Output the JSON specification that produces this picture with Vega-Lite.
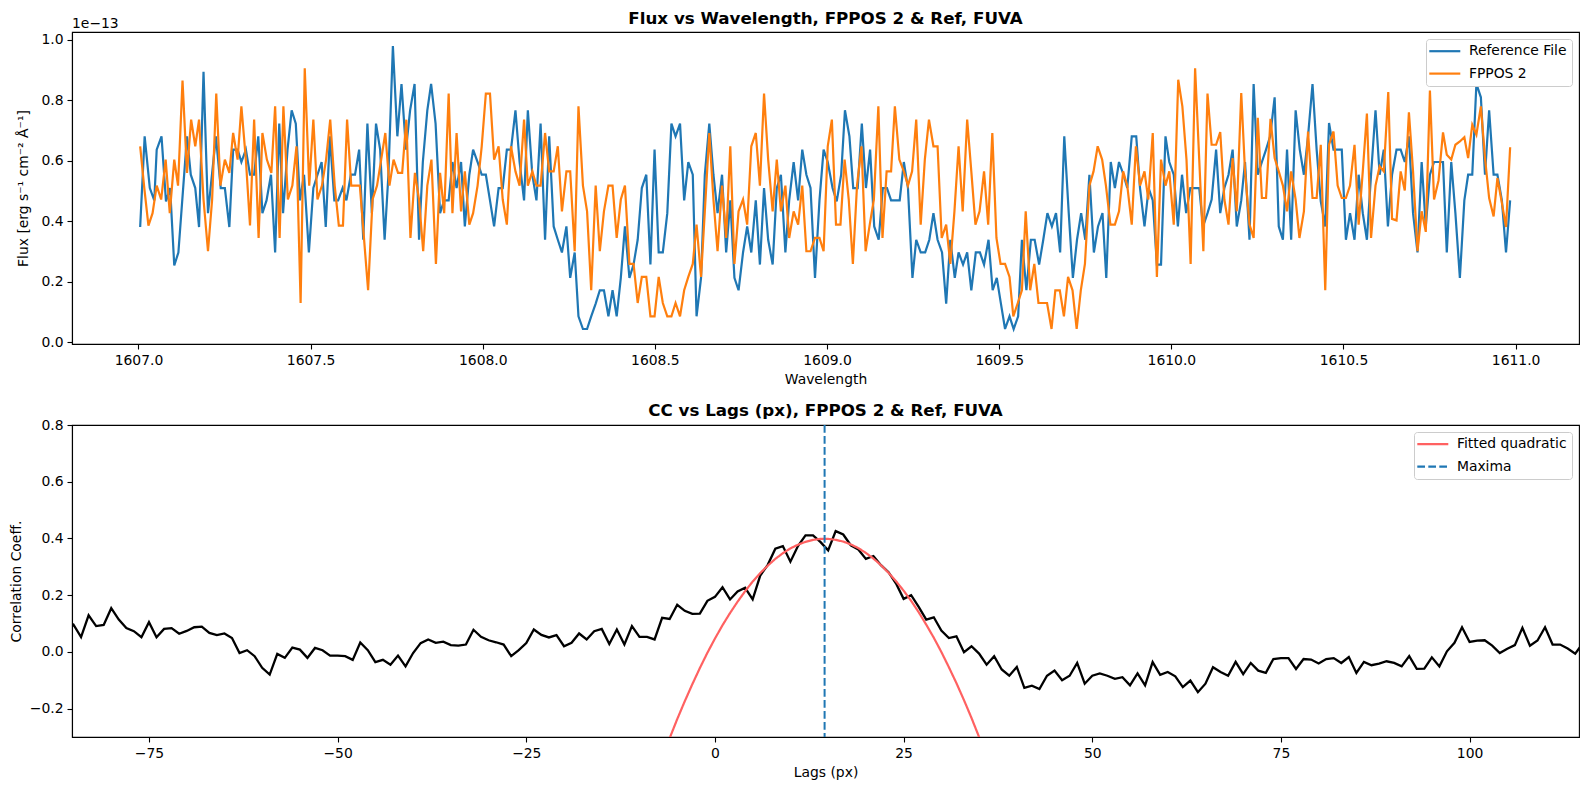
{
  "$schema": "https://vega.github.io/schema/vega-lite/v6.json",
  "padding": {"left": 8, "top": 10, "right": 9, "bottom": 10},
  "background": "white",
  "spacing": 81,
  "bounds": "flush",
  "config": {
    "font": "DejaVu Sans",
    "view": {"stroke": "black", "strokeWidth": 1.1},
    "axis": {"grid": false, "domainColor": "black", "domainWidth": 1.1, "tickColor": "black", "tickWidth": 1.1, "tickSize": 5, "labelPadding": 4, "labelColor": "black", "titleColor": "black", "labelFont": "DejaVu Sans", "titleFont": "DejaVu Sans", "labelFontSize": 13.9, "titleFontSize": 13.9, "titleFontWeight": "normal"},
    "title": {"font": "DejaVu Sans", "fontSize": 16.7, "fontWeight": "bold", "color": "black", "baseline": "alphabetic", "offset": 8.3, "anchor": "middle"},
    "legend": {"orient": "top-right", "offset": 7, "fillColor": "white", "strokeColor": "#cccccc", "cornerRadius": 3, "padding": 5.25, "labelFont": "DejaVu Sans", "labelFontSize": 13.9, "labelColor": "black", "symbolType": "M-3.1,0H3.1", "symbolSize": 100, "symbolOffset": 6.6, "symbolStrokeWidth": 2.2, "rowPadding": 7.4, "labelOffset": 17.15, "title": null}
  },
  "datasets": {
    "ref": [
      {"wavelength":1607.005,"flux":0.380},{"wavelength":1607.018,"flux":0.680},{"wavelength":1607.033,"flux":0.509},{"wavelength":1607.046,"flux":0.468},{"wavelength":1607.053,"flux":0.636},{"wavelength":1607.067,"flux":0.680},{"wavelength":1607.080,"flux":0.465},{"wavelength":1607.092,"flux":0.509},{"wavelength":1607.104,"flux":0.253},{"wavelength":1607.116,"flux":0.296},{"wavelength":1607.141,"flux":0.680},{"wavelength":1607.152,"flux":0.553},{"wavelength":1607.165,"flux":0.509},{"wavelength":1607.176,"flux":0.380},{"wavelength":1607.189,"flux":0.893},{"wavelength":1607.202,"flux":0.426},{"wavelength":1607.225,"flux":0.680},{"wavelength":1607.239,"flux":0.509},{"wavelength":1607.251,"flux":0.509},{"wavelength":1607.264,"flux":0.380},{"wavelength":1607.275,"flux":0.636},{"wavelength":1607.288,"flux":0.636},{"wavelength":1607.299,"flux":0.595},{"wavelength":1607.312,"flux":0.636},{"wavelength":1607.324,"flux":0.553},{"wavelength":1607.336,"flux":0.553},{"wavelength":1607.348,"flux":0.680},{"wavelength":1607.360,"flux":0.426},{"wavelength":1607.372,"flux":0.468},{"wavelength":1607.385,"flux":0.553},{"wavelength":1607.397,"flux":0.296},{"wavelength":1607.409,"flux":0.722},{"wavelength":1607.420,"flux":0.426},{"wavelength":1607.433,"flux":0.636},{"wavelength":1607.445,"flux":0.766},{"wavelength":1607.457,"flux":0.722},{"wavelength":1607.469,"flux":0.468},{"wavelength":1607.481,"flux":0.553},{"wavelength":1607.495,"flux":0.296},{"wavelength":1607.508,"flux":0.509},{"wavelength":1607.520,"flux":0.553},{"wavelength":1607.532,"flux":0.595},{"wavelength":1607.544,"flux":0.380},{"wavelength":1607.556,"flux":0.680},{"wavelength":1607.569,"flux":0.468},{"wavelength":1607.580,"flux":0.468},{"wavelength":1607.593,"flux":0.509},{"wavelength":1607.604,"flux":0.468},{"wavelength":1607.617,"flux":0.553},{"wavelength":1607.629,"flux":0.553},{"wavelength":1607.641,"flux":0.636},{"wavelength":1607.653,"flux":0.338},{"wavelength":1607.665,"flux":0.722},{"wavelength":1607.678,"flux":0.426},{"wavelength":1607.690,"flux":0.722},{"wavelength":1607.702,"flux":0.636},{"wavelength":1607.715,"flux":0.338},{"wavelength":1607.726,"flux":0.553},{"wavelength":1607.739,"flux":0.978},{"wavelength":1607.752,"flux":0.680},{"wavelength":1607.764,"flux":0.853},{"wavelength":1607.777,"flux":0.636},{"wavelength":1607.789,"flux":0.766},{"wavelength":1607.802,"flux":0.853},{"wavelength":1607.815,"flux":0.338},{"wavelength":1607.826,"flux":0.595},{"wavelength":1607.839,"flux":0.766},{"wavelength":1607.850,"flux":0.853},{"wavelength":1607.863,"flux":0.722},{"wavelength":1607.876,"flux":0.426},{"wavelength":1607.888,"flux":0.468},{"wavelength":1607.901,"flux":0.468},
      {"wavelength":1607.912,"flux":0.595},{"wavelength":1607.924,"flux":0.509},{"wavelength":1607.937,"flux":0.595},{"wavelength":1607.948,"flux":0.382},{"wavelength":1607.961,"flux":0.553},{"wavelength":1607.972,"flux":0.636},{"wavelength":1607.985,"flux":0.595},{"wavelength":1607.997,"flux":0.553},{"wavelength":1608.009,"flux":0.553},{"wavelength":1608.021,"flux":0.468},{"wavelength":1608.033,"flux":0.382},{"wavelength":1608.046,"flux":0.509},{"wavelength":1608.058,"flux":0.509},{"wavelength":1608.070,"flux":0.636},{"wavelength":1608.082,"flux":0.636},{"wavelength":1608.095,"flux":0.766},{"wavelength":1608.107,"flux":0.595},{"wavelength":1608.120,"flux":0.468},{"wavelength":1608.131,"flux":0.766},{"wavelength":1608.144,"flux":0.553},{"wavelength":1608.156,"flux":0.468},{"wavelength":1608.168,"flux":0.722},{"wavelength":1608.181,"flux":0.338},{"wavelength":1608.193,"flux":0.680},{"wavelength":1608.206,"flux":0.382},{"wavelength":1608.218,"flux":0.338},{"wavelength":1608.230,"flux":0.296},{"wavelength":1608.243,"flux":0.382},{"wavelength":1608.254,"flux":0.212},{"wavelength":1608.267,"flux":0.296},{"wavelength":1608.278,"flux":0.085},{"wavelength":1608.291,"flux":0.043},{"wavelength":1608.303,"flux":0.043},{"wavelength":1608.315,"flux":0.085},{"wavelength":1608.328,"flux":0.127},{"wavelength":1608.340,"flux":0.171},{"wavelength":1608.352,"flux":0.171},{"wavelength":1608.365,"flux":0.085},{"wavelength":1608.377,"flux":0.171},{"wavelength":1608.389,"flux":0.085},{"wavelength":1608.401,"flux":0.212},{"wavelength":1608.413,"flux":0.382},{"wavelength":1608.426,"flux":0.212},{"wavelength":1608.438,"flux":0.256},{"wavelength":1608.450,"flux":0.338},{"wavelength":1608.462,"flux":0.509},{"wavelength":1608.475,"flux":0.553},{"wavelength":1608.487,"flux":0.256},{"wavelength":1608.499,"flux":0.636},{"wavelength":1608.511,"flux":0.296},{"wavelength":1608.523,"flux":0.296},{"wavelength":1608.536,"flux":0.426},{"wavelength":1608.548,"flux":0.722},{"wavelength":1608.560,"flux":0.680},{"wavelength":1608.573,"flux":0.722},{"wavelength":1608.585,"flux":0.468},{"wavelength":1608.597,"flux":0.595},{"wavelength":1608.610,"flux":0.553},{"wavelength":1608.621,"flux":0.085},{"wavelength":1608.634,"flux":0.212},{"wavelength":1608.645,"flux":0.553},{"wavelength":1608.658,"flux":0.722},{"wavelength":1608.670,"flux":0.553},{"wavelength":1608.682,"flux":0.426},{"wavelength":1608.695,"flux":0.553},{"wavelength":1608.707,"flux":0.296},{"wavelength":1608.719,"flux":0.468},{"wavelength":1608.731,"flux":0.212},{"wavelength":1608.743,"flux":0.171},{"wavelength":1608.756,"flux":0.296},{"wavelength":1608.768,"flux":0.382},{"wavelength":1608.780,"flux":0.296},{"wavelength":1608.793,"flux":0.468},{"wavelength":1608.805,"flux":0.256},{"wavelength":1608.817,"flux":0.509},{"wavelength":1608.829,"flux":0.338},{"wavelength":1608.842,"flux":0.256},{"wavelength":1608.854,"flux":0.509},{"wavelength":1608.866,"flux":0.553},{"wavelength":1608.879,"flux":0.296},{"wavelength":1608.890,"flux":0.468},{"wavelength":1608.903,"flux":0.595},{"wavelength":1608.916,"flux":0.468},{"wavelength":1608.928,"flux":0.636},{"wavelength":1608.940,"flux":0.553},{"wavelength":1608.952,"flux":0.509},{"wavelength":1608.965,"flux":0.212},{"wavelength":1608.978,"flux":0.468},{"wavelength":1608.990,"flux":0.636},{"wavelength":1609.002,"flux":0.595},
      {"wavelength":1609.016,"flux":0.509},{"wavelength":1609.028,"flux":0.465},{"wavelength":1609.041,"flux":0.553},{"wavelength":1609.052,"flux":0.766},{"wavelength":1609.065,"flux":0.680},{"wavelength":1609.076,"flux":0.509},{"wavelength":1609.089,"flux":0.509},{"wavelength":1609.101,"flux":0.722},{"wavelength":1609.113,"flux":0.509},{"wavelength":1609.125,"flux":0.636},{"wavelength":1609.137,"flux":0.382},{"wavelength":1609.150,"flux":0.338},{"wavelength":1609.162,"flux":0.509},{"wavelength":1609.174,"flux":0.509},{"wavelength":1609.186,"flux":0.468},{"wavelength":1609.198,"flux":0.468},{"wavelength":1609.211,"flux":0.468},{"wavelength":1609.223,"flux":0.595},{"wavelength":1609.235,"flux":0.509},{"wavelength":1609.248,"flux":0.212},{"wavelength":1609.259,"flux":0.338},{"wavelength":1609.272,"flux":0.296},{"wavelength":1609.285,"flux":0.296},{"wavelength":1609.297,"flux":0.338},{"wavelength":1609.309,"flux":0.426},{"wavelength":1609.321,"flux":0.338},{"wavelength":1609.334,"flux":0.296},{"wavelength":1609.346,"flux":0.127},{"wavelength":1609.358,"flux":0.338},{"wavelength":1609.371,"flux":0.212},{"wavelength":1609.382,"flux":0.296},{"wavelength":1609.395,"flux":0.256},{"wavelength":1609.407,"flux":0.296},{"wavelength":1609.419,"flux":0.171},{"wavelength":1609.432,"flux":0.296},{"wavelength":1609.444,"flux":0.296},{"wavelength":1609.456,"flux":0.256},{"wavelength":1609.469,"flux":0.338},{"wavelength":1609.481,"flux":0.171},{"wavelength":1609.493,"flux":0.212},{"wavelength":1609.505,"flux":0.127},{"wavelength":1609.517,"flux":0.043},{"wavelength":1609.530,"flux":0.085},{"wavelength":1609.542,"flux":0.043},{"wavelength":1609.555,"flux":0.085},{"wavelength":1609.566,"flux":0.338},{"wavelength":1609.579,"flux":0.171},{"wavelength":1609.592,"flux":0.338},{"wavelength":1609.603,"flux":0.338},{"wavelength":1609.616,"flux":0.256},{"wavelength":1609.628,"flux":0.338},{"wavelength":1609.640,"flux":0.426},{"wavelength":1609.653,"flux":0.382},{"wavelength":1609.665,"flux":0.426},{"wavelength":1609.677,"flux":0.296},{"wavelength":1609.689,"flux":0.680},{"wavelength":1609.702,"flux":0.426},{"wavelength":1609.714,"flux":0.212},{"wavelength":1609.726,"flux":0.338},{"wavelength":1609.738,"flux":0.426},{"wavelength":1609.750,"flux":0.338},{"wavelength":1609.762,"flux":0.553},{"wavelength":1609.775,"flux":0.296},{"wavelength":1609.787,"flux":0.382},{"wavelength":1609.800,"flux":0.426},{"wavelength":1609.811,"flux":0.212},{"wavelength":1609.824,"flux":0.595},{"wavelength":1609.836,"flux":0.509},{"wavelength":1609.848,"flux":0.595},{"wavelength":1609.861,"flux":0.553},{"wavelength":1609.872,"flux":0.509},{"wavelength":1609.885,"flux":0.680},{"wavelength":1609.898,"flux":0.680},{"wavelength":1609.909,"flux":0.509},{"wavelength":1609.922,"flux":0.382},{"wavelength":1609.934,"flux":0.509},{"wavelength":1609.946,"flux":0.468},{"wavelength":1609.958,"flux":0.256},{"wavelength":1609.970,"flux":0.256},{"wavelength":1609.983,"flux":0.680},{"wavelength":1609.994,"flux":0.595},{"wavelength":1610.007,"flux":0.553},{"wavelength":1610.019,"flux":0.382},{"wavelength":1610.031,"flux":0.553},{"wavelength":1610.043,"flux":0.426},{"wavelength":1610.055,"flux":0.509},{"wavelength":1610.068,"flux":0.509},{"wavelength":1610.081,"flux":0.509},{"wavelength":1610.092,"flux":0.382},{"wavelength":1610.105,"flux":0.426},
      {"wavelength":1610.117,"flux":0.471},{"wavelength":1610.130,"flux":0.636},{"wavelength":1610.142,"flux":0.426},{"wavelength":1610.154,"flux":0.509},{"wavelength":1610.166,"flux":0.553},{"wavelength":1610.178,"flux":0.636},{"wavelength":1610.190,"flux":0.382},{"wavelength":1610.203,"flux":0.468},{"wavelength":1610.214,"flux":0.595},{"wavelength":1610.227,"flux":0.338},{"wavelength":1610.239,"flux":0.853},{"wavelength":1610.251,"flux":0.553},{"wavelength":1610.263,"flux":0.595},{"wavelength":1610.275,"flux":0.636},{"wavelength":1610.287,"flux":0.680},{"wavelength":1610.300,"flux":0.809},{"wavelength":1610.312,"flux":0.382},{"wavelength":1610.324,"flux":0.338},{"wavelength":1610.336,"flux":0.636},{"wavelength":1610.348,"flux":0.338},{"wavelength":1610.361,"flux":0.766},{"wavelength":1610.373,"flux":0.636},{"wavelength":1610.385,"flux":0.553},{"wavelength":1610.397,"flux":0.680},{"wavelength":1610.410,"flux":0.853},{"wavelength":1610.422,"flux":0.636},{"wavelength":1610.434,"flux":0.465},{"wavelength":1610.447,"flux":0.382},{"wavelength":1610.458,"flux":0.724},{"wavelength":1610.471,"flux":0.636},{"wavelength":1610.483,"flux":0.636},{"wavelength":1610.495,"flux":0.636},{"wavelength":1610.507,"flux":0.338},{"wavelength":1610.519,"flux":0.426},{"wavelength":1610.532,"flux":0.338},{"wavelength":1610.544,"flux":0.553},{"wavelength":1610.556,"flux":0.426},{"wavelength":1610.568,"flux":0.338},{"wavelength":1610.580,"flux":0.553},{"wavelength":1610.593,"flux":0.766},{"wavelength":1610.605,"flux":0.553},{"wavelength":1610.617,"flux":0.636},{"wavelength":1610.629,"flux":0.382},{"wavelength":1610.641,"flux":0.553},{"wavelength":1610.654,"flux":0.636},{"wavelength":1610.666,"flux":0.636},{"wavelength":1610.678,"flux":0.595},{"wavelength":1610.690,"flux":0.680},{"wavelength":1610.702,"flux":0.426},{"wavelength":1610.715,"flux":0.296},{"wavelength":1610.727,"flux":0.595},{"wavelength":1610.739,"flux":0.382},{"wavelength":1610.751,"flux":0.553},{"wavelength":1610.763,"flux":0.595},{"wavelength":1610.776,"flux":0.595},{"wavelength":1610.789,"flux":0.595},{"wavelength":1610.800,"flux":0.296},{"wavelength":1610.813,"flux":0.595},{"wavelength":1610.825,"flux":0.426},{"wavelength":1610.838,"flux":0.212},{"wavelength":1610.851,"flux":0.468},{"wavelength":1610.862,"flux":0.553},{"wavelength":1610.874,"flux":0.553},{"wavelength":1610.886,"flux":0.853},{"wavelength":1610.899,"flux":0.809},{"wavelength":1610.911,"flux":0.553},{"wavelength":1610.923,"flux":0.766},{"wavelength":1610.936,"flux":0.553},{"wavelength":1610.947,"flux":0.553},{"wavelength":1610.960,"flux":0.468},{"wavelength":1610.972,"flux":0.296},{"wavelength":1610.984,"flux":0.468}
    ],
    "fppos": [
      {"wavelength":1607.005,"flux":0.647},{"wavelength":1607.017,"flux":0.509},{"wavelength":1607.029,"flux":0.385},{"wavelength":1607.041,"flux":0.426},{"wavelength":1607.053,"flux":0.517},{"wavelength":1607.066,"flux":0.471},{"wavelength":1607.079,"flux":0.603},{"wavelength":1607.091,"flux":0.426},{"wavelength":1607.104,"flux":0.603},{"wavelength":1607.115,"flux":0.517},{"wavelength":1607.128,"flux":0.864},{"wavelength":1607.141,"flux":0.559},{"wavelength":1607.153,"flux":0.735},{"wavelength":1607.165,"flux":0.647},{"wavelength":1607.176,"flux":0.735},{"wavelength":1607.189,"flux":0.471},{"wavelength":1607.202,"flux":0.300},{"wavelength":1607.214,"flux":0.471},{"wavelength":1607.226,"flux":0.821},{"wavelength":1607.238,"flux":0.517},{"wavelength":1607.251,"flux":0.603},{"wavelength":1607.264,"flux":0.559},{"wavelength":1607.275,"flux":0.691},{"wavelength":1607.288,"flux":0.603},{"wavelength":1607.299,"flux":0.779},{"wavelength":1607.312,"flux":0.603},{"wavelength":1607.324,"flux":0.385},{"wavelength":1607.336,"flux":0.735},{"wavelength":1607.349,"flux":0.344},{"wavelength":1607.360,"flux":0.691},{"wavelength":1607.373,"flux":0.603},{"wavelength":1607.386,"flux":0.559},{"wavelength":1607.397,"flux":0.779},{"wavelength":1607.410,"flux":0.344},{"wavelength":1607.421,"flux":0.779},{"wavelength":1607.434,"flux":0.471},{"wavelength":1607.447,"flux":0.517},{"wavelength":1607.459,"flux":0.647},{"wavelength":1607.471,"flux":0.129},{"wavelength":1607.483,"flux":0.905},{"wavelength":1607.496,"flux":0.517},{"wavelength":1607.508,"flux":0.735},{"wavelength":1607.520,"flux":0.471},{"wavelength":1607.533,"flux":0.517},{"wavelength":1607.545,"flux":0.603},{"wavelength":1607.557,"flux":0.735},{"wavelength":1607.570,"flux":0.517},{"wavelength":1607.582,"flux":0.385},{"wavelength":1607.594,"flux":0.385},{"wavelength":1607.606,"flux":0.735},{"wavelength":1607.618,"flux":0.517},{"wavelength":1607.631,"flux":0.517},{"wavelength":1607.643,"flux":0.517},{"wavelength":1607.655,"flux":0.344},{"wavelength":1607.667,"flux":0.171},{"wavelength":1607.680,"flux":0.471},{"wavelength":1607.693,"flux":0.517},{"wavelength":1607.705,"flux":0.603},{"wavelength":1607.717,"flux":0.691},{"wavelength":1607.729,"flux":0.517},{"wavelength":1607.741,"flux":0.603},{"wavelength":1607.754,"flux":0.559},{"wavelength":1607.766,"flux":0.559},{"wavelength":1607.778,"flux":0.735},{"wavelength":1607.790,"flux":0.344},{"wavelength":1607.803,"flux":0.559},{"wavelength":1607.815,"flux":0.471},{"wavelength":1607.827,"flux":0.300},{"wavelength":1607.839,"flux":0.517},{"wavelength":1607.851,"flux":0.603},{"wavelength":1607.864,"flux":0.258},{"wavelength":1607.876,"flux":0.559},{"wavelength":1607.888,"flux":0.426},{"wavelength":1607.901,"flux":0.821},
      {"wavelength":1607.912,"flux":0.426},{"wavelength":1607.924,"flux":0.691},{"wavelength":1607.937,"flux":0.432},{"wavelength":1607.948,"flux":0.564},{"wavelength":1607.961,"flux":0.388},{"wavelength":1607.972,"flux":0.426},{"wavelength":1607.985,"flux":0.517},{"wavelength":1607.997,"flux":0.647},{"wavelength":1608.009,"flux":0.821},{"wavelength":1608.021,"flux":0.821},{"wavelength":1608.033,"flux":0.603},{"wavelength":1608.046,"flux":0.647},{"wavelength":1608.058,"flux":0.471},{"wavelength":1608.070,"flux":0.388},{"wavelength":1608.082,"flux":0.647},{"wavelength":1608.095,"flux":0.564},{"wavelength":1608.107,"flux":0.517},{"wavelength":1608.120,"flux":0.735},{"wavelength":1608.131,"flux":0.517},{"wavelength":1608.144,"flux":0.564},{"wavelength":1608.156,"flux":0.517},{"wavelength":1608.168,"flux":0.517},{"wavelength":1608.181,"flux":0.691},{"wavelength":1608.193,"flux":0.564},{"wavelength":1608.206,"flux":0.564},{"wavelength":1608.218,"flux":0.647},{"wavelength":1608.230,"flux":0.432},{"wavelength":1608.243,"flux":0.564},{"wavelength":1608.254,"flux":0.564},{"wavelength":1608.267,"flux":0.300},{"wavelength":1608.278,"flux":0.779},{"wavelength":1608.291,"flux":0.517},{"wavelength":1608.303,"flux":0.432},{"wavelength":1608.315,"flux":0.171},{"wavelength":1608.328,"flux":0.517},{"wavelength":1608.340,"flux":0.300},{"wavelength":1608.352,"flux":0.432},{"wavelength":1608.365,"flux":0.517},{"wavelength":1608.377,"flux":0.517},{"wavelength":1608.389,"flux":0.344},{"wavelength":1608.401,"flux":0.471},{"wavelength":1608.413,"flux":0.517},{"wavelength":1608.426,"flux":0.258},{"wavelength":1608.438,"flux":0.258},{"wavelength":1608.450,"flux":0.129},{"wavelength":1608.462,"flux":0.215},{"wavelength":1608.475,"flux":0.215},{"wavelength":1608.487,"flux":0.085},{"wavelength":1608.499,"flux":0.085},{"wavelength":1608.511,"flux":0.215},{"wavelength":1608.523,"flux":0.129},{"wavelength":1608.536,"flux":0.085},{"wavelength":1608.548,"flux":0.085},{"wavelength":1608.560,"flux":0.129},{"wavelength":1608.573,"flux":0.085},{"wavelength":1608.585,"flux":0.171},{"wavelength":1608.597,"flux":0.215},{"wavelength":1608.610,"flux":0.258},{"wavelength":1608.621,"flux":0.388},{"wavelength":1608.634,"flux":0.215},{"wavelength":1608.645,"flux":0.432},{"wavelength":1608.658,"flux":0.691},{"wavelength":1608.670,"flux":0.471},{"wavelength":1608.682,"flux":0.300},{"wavelength":1608.695,"flux":0.517},{"wavelength":1608.707,"flux":0.344},{"wavelength":1608.719,"flux":0.647},{"wavelength":1608.731,"flux":0.258},{"wavelength":1608.743,"flux":0.432},{"wavelength":1608.756,"flux":0.471},{"wavelength":1608.768,"flux":0.388},{"wavelength":1608.780,"flux":0.647},{"wavelength":1608.793,"flux":0.691},{"wavelength":1608.805,"flux":0.517},{"wavelength":1608.817,"flux":0.821},{"wavelength":1608.829,"flux":0.603},{"wavelength":1608.842,"flux":0.432},{"wavelength":1608.854,"flux":0.603},{"wavelength":1608.866,"flux":0.432},{"wavelength":1608.879,"flux":0.517},{"wavelength":1608.890,"flux":0.344},{"wavelength":1608.903,"flux":0.432},{"wavelength":1608.916,"flux":0.388},{"wavelength":1608.928,"flux":0.517},{"wavelength":1608.940,"flux":0.300},{"wavelength":1608.952,"flux":0.300},{"wavelength":1608.965,"flux":0.344},{"wavelength":1608.978,"flux":0.344},{"wavelength":1608.990,"flux":0.300},{"wavelength":1609.002,"flux":0.647},
      {"wavelength":1609.014,"flux":0.735},{"wavelength":1609.026,"flux":0.388},{"wavelength":1609.039,"flux":0.388},{"wavelength":1609.051,"flux":0.603},{"wavelength":1609.063,"flux":0.471},{"wavelength":1609.075,"flux":0.258},{"wavelength":1609.087,"flux":0.517},{"wavelength":1609.100,"flux":0.647},{"wavelength":1609.112,"flux":0.300},{"wavelength":1609.124,"flux":0.388},{"wavelength":1609.136,"flux":0.471},{"wavelength":1609.149,"flux":0.779},{"wavelength":1609.161,"flux":0.344},{"wavelength":1609.173,"flux":0.564},{"wavelength":1609.186,"flux":0.564},{"wavelength":1609.197,"flux":0.779},{"wavelength":1609.210,"flux":0.603},{"wavelength":1609.223,"flux":0.564},{"wavelength":1609.235,"flux":0.517},{"wavelength":1609.247,"flux":0.564},{"wavelength":1609.259,"flux":0.735},{"wavelength":1609.272,"flux":0.388},{"wavelength":1609.284,"flux":0.603},{"wavelength":1609.296,"flux":0.735},{"wavelength":1609.309,"flux":0.647},{"wavelength":1609.321,"flux":0.647},{"wavelength":1609.333,"flux":0.344},{"wavelength":1609.346,"flux":0.388},{"wavelength":1609.358,"flux":0.258},{"wavelength":1609.370,"flux":0.432},{"wavelength":1609.382,"flux":0.647},{"wavelength":1609.394,"flux":0.432},{"wavelength":1609.407,"flux":0.735},{"wavelength":1609.419,"flux":0.564},{"wavelength":1609.431,"flux":0.388},{"wavelength":1609.443,"flux":0.432},{"wavelength":1609.456,"flux":0.564},{"wavelength":1609.468,"flux":0.388},{"wavelength":1609.480,"flux":0.691},{"wavelength":1609.492,"flux":0.344},{"wavelength":1609.504,"flux":0.258},{"wavelength":1609.517,"flux":0.258},{"wavelength":1609.530,"flux":0.215},{"wavelength":1609.541,"flux":0.085},{"wavelength":1609.554,"flux":0.129},{"wavelength":1609.566,"flux":0.171},{"wavelength":1609.577,"flux":0.432},{"wavelength":1609.590,"flux":0.171},{"wavelength":1609.602,"flux":0.258},{"wavelength":1609.614,"flux":0.129},{"wavelength":1609.626,"flux":0.129},{"wavelength":1609.639,"flux":0.129},{"wavelength":1609.652,"flux":0.043},{"wavelength":1609.663,"flux":0.171},{"wavelength":1609.676,"flux":0.171},{"wavelength":1609.688,"flux":0.085},{"wavelength":1609.700,"flux":0.215},{"wavelength":1609.713,"flux":0.171},{"wavelength":1609.725,"flux":0.043},{"wavelength":1609.737,"flux":0.171},{"wavelength":1609.749,"flux":0.258},{"wavelength":1609.762,"flux":0.517},{"wavelength":1609.774,"flux":0.564},{"wavelength":1609.786,"flux":0.647},{"wavelength":1609.799,"flux":0.603},{"wavelength":1609.810,"flux":0.517},{"wavelength":1609.823,"flux":0.388},{"wavelength":1609.836,"flux":0.388},{"wavelength":1609.848,"flux":0.432},{"wavelength":1609.860,"flux":0.564},{"wavelength":1609.872,"flux":0.517},{"wavelength":1609.885,"flux":0.388},{"wavelength":1609.897,"flux":0.647},{"wavelength":1609.909,"flux":0.517},{"wavelength":1609.922,"flux":0.564},{"wavelength":1609.933,"flux":0.471},{"wavelength":1609.946,"flux":0.691},{"wavelength":1609.958,"flux":0.215},{"wavelength":1609.970,"flux":0.603},{"wavelength":1609.983,"flux":0.517},{"wavelength":1609.994,"flux":0.564},{"wavelength":1610.007,"flux":0.388},{"wavelength":1610.020,"flux":0.867},{"wavelength":1610.032,"flux":0.779},{"wavelength":1610.044,"flux":0.603},{"wavelength":1610.056,"flux":0.258},{"wavelength":1610.069,"flux":0.905},{"wavelength":1610.081,"flux":0.603},{"wavelength":1610.093,"flux":0.300},{"wavelength":1610.105,"flux":0.821},
      {"wavelength":1610.117,"flux":0.652},{"wavelength":1610.130,"flux":0.652},{"wavelength":1610.142,"flux":0.694},{"wavelength":1610.154,"flux":0.471},{"wavelength":1610.166,"flux":0.388},{"wavelength":1610.178,"flux":0.608},{"wavelength":1610.190,"flux":0.432},{"wavelength":1610.203,"flux":0.823},{"wavelength":1610.214,"flux":0.564},{"wavelength":1610.227,"flux":0.388},{"wavelength":1610.239,"flux":0.344},{"wavelength":1610.251,"flux":0.741},{"wavelength":1610.263,"flux":0.476},{"wavelength":1610.275,"flux":0.476},{"wavelength":1610.288,"flux":0.738},{"wavelength":1610.300,"flux":0.608},{"wavelength":1610.312,"flux":0.564},{"wavelength":1610.324,"flux":0.517},{"wavelength":1610.336,"flux":0.432},{"wavelength":1610.348,"flux":0.564},{"wavelength":1610.361,"flux":0.471},{"wavelength":1610.372,"flux":0.344},{"wavelength":1610.385,"flux":0.432},{"wavelength":1610.397,"flux":0.696},{"wavelength":1610.410,"flux":0.476},{"wavelength":1610.422,"flux":0.476},{"wavelength":1610.434,"flux":0.652},{"wavelength":1610.447,"flux":0.171},{"wavelength":1610.458,"flux":0.652},{"wavelength":1610.471,"flux":0.696},{"wavelength":1610.483,"flux":0.517},{"wavelength":1610.495,"flux":0.476},{"wavelength":1610.507,"flux":0.476},{"wavelength":1610.519,"flux":0.517},{"wavelength":1610.532,"flux":0.652},{"wavelength":1610.544,"flux":0.388},{"wavelength":1610.556,"flux":0.564},{"wavelength":1610.568,"flux":0.755},{"wavelength":1610.580,"flux":0.344},{"wavelength":1610.593,"flux":0.517},{"wavelength":1610.605,"flux":0.581},{"wavelength":1610.617,"flux":0.564},{"wavelength":1610.630,"flux":0.826},{"wavelength":1610.641,"flux":0.407},{"wavelength":1610.654,"flux":0.402},{"wavelength":1610.666,"flux":0.564},{"wavelength":1610.678,"flux":0.501},{"wavelength":1610.690,"flux":0.759},{"wavelength":1610.702,"flux":0.564},{"wavelength":1610.715,"flux":0.300},{"wavelength":1610.727,"flux":0.432},{"wavelength":1610.739,"flux":0.364},{"wavelength":1610.751,"flux":0.831},{"wavelength":1610.763,"flux":0.471},{"wavelength":1610.776,"flux":0.534},{"wavelength":1610.789,"flux":0.693},{"wavelength":1610.800,"flux":0.619},{"wavelength":1610.813,"flux":0.603},{"wavelength":1610.825,"flux":0.652},{"wavelength":1610.838,"flux":0.663},{"wavelength":1610.851,"flux":0.677},{"wavelength":1610.862,"flux":0.608},{"wavelength":1610.874,"flux":0.718},{"wavelength":1610.886,"flux":0.685},{"wavelength":1610.899,"flux":0.779},{"wavelength":1610.911,"flux":0.608},{"wavelength":1610.923,"flux":0.476},{"wavelength":1610.936,"flux":0.415},{"wavelength":1610.947,"flux":0.542},{"wavelength":1610.960,"flux":0.460},{"wavelength":1610.972,"flux":0.380},{"wavelength":1610.984,"flux":0.644}
    ],
    "offsetText": [{"label": "1e−13"}],
    "cc": [
      {"lag":-86,"cc":0.075},{"lag":-85,"cc":0.096},{"lag":-84,"cc":0.052},{"lag":-83,"cc":0.129},{"lag":-82,"cc":0.091},{"lag":-81,"cc":0.095},{"lag":-80,"cc":0.154},{"lag":-79,"cc":0.114},{"lag":-78,"cc":0.084},{"lag":-77,"cc":0.073},{"lag":-76,"cc":0.052},{"lag":-75,"cc":0.105},{"lag":-74,"cc":0.052},{"lag":-73,"cc":0.081},{"lag":-72,"cc":0.084},{"lag":-71,"cc":0.064},{"lag":-70,"cc":0.074},{"lag":-69,"cc":0.087},{"lag":-68,"cc":0.089},{"lag":-67,"cc":0.067},{"lag":-66,"cc":0.059},{"lag":-65,"cc":0.065},{"lag":-64,"cc":0.049},{"lag":-63,"cc":-0.004},{"lag":-62,"cc":0.006},{"lag":-61,"cc":-0.015},{"lag":-60,"cc":-0.056},{"lag":-59,"cc":-0.080},{"lag":-58,"cc":-0.007},{"lag":-57,"cc":-0.021},{"lag":-56,"cc":0.015},{"lag":-55,"cc":0.008},{"lag":-54,"cc":-0.021},{"lag":-53,"cc":0.014},{"lag":-52,"cc":0.006},{"lag":-51,"cc":-0.013},{"lag":-50,"cc":-0.013},{"lag":-49,"cc":-0.015},{"lag":-48,"cc":-0.028},{"lag":-47,"cc":0.033},{"lag":-46,"cc":0.006},{"lag":-45,"cc":-0.036},{"lag":-44,"cc":-0.028},{"lag":-43,"cc":-0.045},{"lag":-42,"cc":-0.013},{"lag":-41,"cc":-0.051},{"lag":-40,"cc":-0.004},{"lag":-39,"cc":0.031},{"lag":-38,"cc":0.044},{"lag":-37,"cc":0.032},{"lag":-36,"cc":0.036},{"lag":-35,"cc":0.024},{"lag":-34,"cc":0.022},{"lag":-33,"cc":0.026},{"lag":-32,"cc":0.078},{"lag":-31,"cc":0.053},{"lag":-30,"cc":0.041},{"lag":-29,"cc":0.034},{"lag":-28,"cc":0.026},{"lag":-27,"cc":-0.015},{"lag":-26,"cc":0.006},{"lag":-25,"cc":0.031},{"lag":-24,"cc":0.079},{"lag":-23,"cc":0.060},{"lag":-22,"cc":0.051},{"lag":-21,"cc":0.059},{"lag":-20,"cc":0.020},{"lag":-19,"cc":0.032},{"lag":-18,"cc":0.065},{"lag":-17,"cc":0.044},{"lag":-16,"cc":0.073},{"lag":-15,"cc":0.081},{"lag":-14,"cc":0.028},{"lag":-13,"cc":0.079},{"lag":-12,"cc":0.026},{"lag":-11,"cc":0.091},{"lag":-10,"cc":0.053},{"lag":-9,"cc":0.053},{"lag":-8,"cc":0.044},{"lag":-7,"cc":0.120},{"lag":-6,"cc":0.116},{"lag":-5,"cc":0.166},{"lag":-4,"cc":0.145},{"lag":-3,"cc":0.134},{"lag":-2,"cc":0.135},{"lag":-1,"cc":0.180},{"lag":0,"cc":0.194},{"lag":1,"cc":0.228},{"lag":2,"cc":0.185},{"lag":3,"cc":0.213},{"lag":4,"cc":0.226},{"lag":5,"cc":0.185},{"lag":6,"cc":0.269},{"lag":7,"cc":0.307},{"lag":8,"cc":0.364},{"lag":9,"cc":0.373},{"lag":10,"cc":0.318},{"lag":11,"cc":0.373},{"lag":12,"cc":0.411},{"lag":13,"cc":0.411},{"lag":14,"cc":0.387},{"lag":15,"cc":0.358},{"lag":16,"cc":0.426},{"lag":17,"cc":0.414},{"lag":18,"cc":0.376},{"lag":19,"cc":0.361},{"lag":20,"cc":0.328},{"lag":21,"cc":0.338},{"lag":22,"cc":0.306},{"lag":23,"cc":0.281},{"lag":24,"cc":0.241},{"lag":25,"cc":0.187},{"lag":26,"cc":0.200},{"lag":27,"cc":0.159},{"lag":28,"cc":0.114},{"lag":29,"cc":0.122},{"lag":30,"cc":0.075},{"lag":31,"cc":0.049},{"lag":32,"cc":0.055},{"lag":33,"cc":-0.001},{"lag":34,"cc":0.020},{"lag":35,"cc":-0.006},{"lag":36,"cc":-0.045},{"lag":37,"cc":-0.015},{"lag":38,"cc":-0.062},{"lag":39,"cc":-0.084},{"lag":40,"cc":-0.053},{"lag":41,"cc":-0.127},{"lag":42,"cc":-0.119},{"lag":43,"cc":-0.131},{"lag":44,"cc":-0.084},{"lag":45,"cc":-0.066},{"lag":46,"cc":-0.100},{"lag":47,"cc":-0.084},{"lag":48,"cc":-0.039},{"lag":49,"cc":-0.112},{"lag":50,"cc":-0.084},{"lag":51,"cc":-0.076},{"lag":52,"cc":-0.084},{"lag":53,"cc":-0.095},{"lag":54,"cc":-0.089},{"lag":55,"cc":-0.118},{"lag":56,"cc":-0.076},{"lag":57,"cc":-0.118},{"lag":58,"cc":-0.036},{"lag":59,"cc":-0.081},{"lag":60,"cc":-0.071},{"lag":61,"cc":-0.086},{"lag":62,"cc":-0.124},{"lag":63,"cc":-0.101},{"lag":64,"cc":-0.142},{"lag":65,"cc":-0.112},{"lag":66,"cc":-0.054},{"lag":67,"cc":-0.071},{"lag":68,"cc":-0.084},{"lag":69,"cc":-0.035},{"lag":70,"cc":-0.078},{"lag":71,"cc":-0.039},{"lag":72,"cc":-0.066},{"lag":73,"cc":-0.074},{"lag":74,"cc":-0.025},{"lag":75,"cc":-0.022},{"lag":76,"cc":-0.022},{"lag":77,"cc":-0.060},{"lag":78,"cc":-0.025},{"lag":79,"cc":-0.027},{"lag":80,"cc":-0.041},{"lag":81,"cc":-0.025},{"lag":82,"cc":-0.022},{"lag":83,"cc":-0.039},{"lag":84,"cc":-0.018},{"lag":85,"cc":-0.074},{"lag":86,"cc":-0.035},{"lag":87,"cc":-0.047},{"lag":88,"cc":-0.041},{"lag":89,"cc":-0.033},{"lag":90,"cc":-0.039},{"lag":91,"cc":-0.051},{"lag":92,"cc":-0.015},{"lag":93,"cc":-0.060},{"lag":94,"cc":-0.059},{"lag":95,"cc":-0.019},{"lag":96,"cc":-0.051},{"lag":97,"cc":0.002},{"lag":98,"cc":0.032},{"lag":99,"cc":0.087},{"lag":100,"cc":0.035},{"lag":101,"cc":0.040},{"lag":102,"cc":0.041},{"lag":103,"cc":0.022},{"lag":104,"cc":-0.004},{"lag":105,"cc":0.011},{"lag":106,"cc":0.024},{"lag":107,"cc":0.085},{"lag":108,"cc":0.022},{"lag":109,"cc":0.040},{"lag":110,"cc":0.087},{"lag":111,"cc":0.026},{"lag":112,"cc":0.026},{"lag":113,"cc":0.012},{"lag":114,"cc":-0.006},{"lag":115,"cc":0.030}
    ],
    "fit": [
      {"lag":-7,"cc":-0.374},{"lag":-6,"cc":-0.304},{"lag":-5,"cc":-0.237},{"lag":-4,"cc":-0.174},{"lag":-3,"cc":-0.114},{"lag":-2,"cc":-0.057},{"lag":-1,"cc":-0.003},{"lag":0,"cc":0.047},{"lag":1,"cc":0.094},{"lag":2,"cc":0.137},{"lag":3,"cc":0.177},{"lag":4,"cc":0.214},{"lag":5,"cc":0.248},{"lag":6,"cc":0.278},{"lag":7,"cc":0.304},{"lag":8,"cc":0.328},{"lag":9,"cc":0.348},{"lag":10,"cc":0.365},{"lag":11,"cc":0.378},{"lag":12,"cc":0.388},{"lag":13,"cc":0.395},{"lag":14,"cc":0.3985},{"lag":14.53,"cc":0.399},{"lag":15,"cc":0.3986},{"lag":16,"cc":0.395},{"lag":17,"cc":0.389},{"lag":18,"cc":0.379},{"lag":19,"cc":0.366},{"lag":20,"cc":0.349},{"lag":21,"cc":0.329},{"lag":22,"cc":0.306},{"lag":23,"cc":0.279},{"lag":24,"cc":0.249},{"lag":25,"cc":0.216},{"lag":26,"cc":0.180},{"lag":27,"cc":0.140},{"lag":28,"cc":0.096},{"lag":29,"cc":0.050},{"lag":30,"cc":0.000},{"lag":31,"cc":-0.054},{"lag":32,"cc":-0.110},{"lag":33,"cc":-0.170},{"lag":34,"cc":-0.233},{"lag":35,"cc":-0.300},{"lag":36,"cc":-0.370}
    ],
    "maxima": [{"lag": 14.53}]
  },
  "vconcat": [
    {
      "width": 1507,
      "height": 312,
      "title": {"text": "Flux vs Wavelength, FPPOS 2 & Ref, FUVA", "dy": 19.3},
      "layer": [
        {
          "data": {"name": "ref"},
          "mark": {"type": "line", "strokeWidth": 2.2, "clip": true},
          "encoding": {
            "x": {"field": "wavelength", "type": "quantitative", "scale": {"domain": [1606.807, 1611.184], "nice": false, "zero": false}, "axis": {"title": "Wavelength", "values": [1607, 1607.5, 1608, 1608.5, 1609, 1609.5, 1610, 1610.5, 1611], "format": ".1f", "titlePadding": 6}},
            "y": {"field": "flux", "type": "quantitative", "scale": {"domain": [-0.0066, 1.0248], "nice": false, "zero": false}, "axis": {"title": "Flux [erg s⁻¹ cm⁻² Å⁻¹]", "values": [0, 0.2, 0.4, 0.6, 0.8, 1.0], "format": ".1f", "titlePadding": 10}},
            "color": {"datum": "Reference File", "type": "nominal", "scale": {"domain": ["Reference File", "FPPOS 2"], "range": ["#1f77b4", "#ff7f0e"]}, "legend": {"title": null, "symbolType": "M-3.1,0H3.1", "symbolSize": 100, "symbolOffset": 6.6, "labelOffset": 17.15, "symbolStrokeWidth": 2.2, "rowPadding": 7.4, "padding": 5.25, "offset": 7}}
          }
        },
        {
          "data": {"name": "fppos"},
          "mark": {"type": "line", "strokeWidth": 2.2, "clip": true},
          "encoding": {
            "x": {"field": "wavelength", "type": "quantitative"},
            "y": {"field": "flux", "type": "quantitative"},
            "color": {"datum": "FPPOS 2", "type": "nominal"}
          }
        },
        {
          "data": {"name": "offsetText"},
          "mark": {"type": "text", "align": "left", "baseline": "bottom", "dy": -1, "fontSize": 13.9, "color": "black", "font": "DejaVu Sans"},
          "encoding": {
            "x": {"datum": 1606.807},
            "y": {"datum": 1.0248},
            "text": {"field": "label"}
          }
        }
      ]
    },
    {
      "width": 1507,
      "height": 312,
      "title": {"text": "CC vs Lags (px), FPPOS 2 & Ref, FUVA", "dy": 10.1},
      "layer": [
        {
          "data": {"name": "cc"},
          "mark": {"type": "line", "color": "black", "strokeWidth": 2.3, "clip": true},
          "encoding": {
            "x": {"field": "lag", "type": "quantitative", "scale": {"domain": [-85.2, 114.5], "nice": false, "zero": false}, "axis": {"title": "Lags (px)", "values": [-75, -50, -25, 0, 25, 50, 75, 100], "format": "d", "titlePadding": 6}},
            "y": {"field": "cc", "type": "quantitative", "scale": {"domain": [-0.3, 0.8], "nice": false, "zero": false}, "axis": {"title": "Correlation Coeff.", "values": [-0.2, 0, 0.2, 0.4, 0.6, 0.8], "format": ".1f", "titlePadding": 6}}
          }
        },
        {
          "data": {"name": "fit"},
          "mark": {"type": "line", "strokeWidth": 2.2, "clip": true},
          "encoding": {
            "x": {"field": "lag", "type": "quantitative"},
            "y": {"field": "cc", "type": "quantitative"},
            "color": {"datum": "Fitted quadratic", "type": "nominal", "scale": {"domain": ["Fitted quadratic", "Maxima"], "range": ["#ff6161", "#1f77b4"]}, "legend": {"title": null, "symbolType": "M-3.1,0H3.1", "symbolSize": 100, "symbolOffset": 6.6, "labelOffset": 17.15, "symbolStrokeWidth": 2.2, "rowPadding": 7.4, "padding": 5.25, "offset": 7}},
            "strokeDash": {"datum": "Fitted quadratic", "type": "nominal", "scale": {"domain": ["Fitted quadratic", "Maxima"], "range": [[1, 0], [7.7, 3.3]]}, "legend": {"title": null, "symbolType": "M-3.1,0H3.1", "symbolSize": 100, "symbolOffset": 6.6, "labelOffset": 17.15, "symbolStrokeWidth": 2.2, "rowPadding": 7.4, "padding": 5.25, "offset": 7}}
          }
        },
        {
          "data": {"name": "maxima"},
          "mark": {"type": "rule", "strokeWidth": 2},
          "encoding": {
            "x": {"field": "lag", "type": "quantitative"},
            "color": {"datum": "Maxima", "type": "nominal"},
            "strokeDash": {"datum": "Maxima", "type": "nominal"}
          }
        }
      ]
    }
  ],
  "resolve": {"scale": {"color": "independent", "strokeDash": "independent", "x": "independent", "y": "independent"}, "legend": {"color": "independent", "strokeDash": "independent"}}
}
